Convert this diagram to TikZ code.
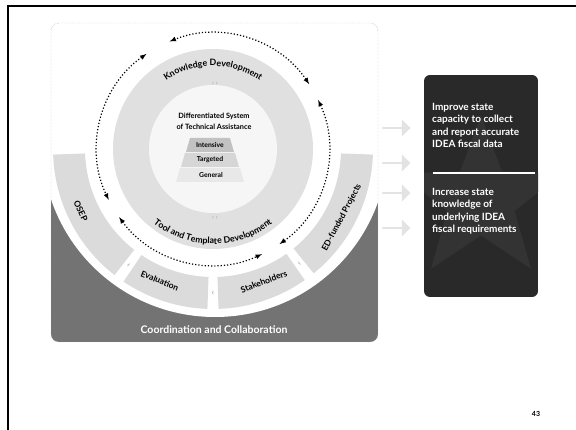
\documentclass[tikz,border=0pt]{standalone}
\usepackage{fontspec}
\setsansfont{Lato}
\usetikzlibrary{decorations.text,shapes.arrows,shapes.geometric}

\definecolor{bandgray}{gray}{0.45}
\definecolor{ringgray}{gray}{0.86}
\definecolor{diskgray}{gray}{0.88}
\definecolor{boxdark}{gray}{0.16}

\begin{document}
\begin{tikzpicture}
    [x=1pt, y=-1pt, font=\sffamily,
     ringlabel/.style={font=\sffamily\bfseries\fontsize{8.5}{9}\selectfont},
     tier/.style={font=\sffamily\bfseries\fontsize{6.8}{7}\selectfont},
     dotarrow/.style={<->, >=latex, dotted, line width=1.2pt},
     flowarrow/.style={single arrow, fill=gray!22, draw=none, inner sep=0pt,
       minimum height=28pt, minimum width=17pt, single arrow head extend=2pt},
     boxtext/.style={white, anchor=north west, inner sep=0pt, align=left,
       font=\sffamily\bfseries\fontsize{10}{12.3}\selectfont}]
    \def \cx {213}
    \def \cy {149}
    \def \rdots {116} % radius of the dotted arrows

    \useasboundingbox (0,0) rectangle (576,430);
    \fill[white] (0,0) rectangle (576,430);

    % slide frame
    \draw[line width=2pt] (8,430) -- (8,6) -- (576,6);

    % panel with the shaded band below the circle
    \begin{scope}
      \clip[rounded corners=8pt] (51,23) rectangle (378,342);
      \fill[bandgray] (51,144) rectangle (378,342);
      \fill[white] (215,144) circle[radius=173];
    \end{scope}
    \draw[gray!70, densely dotted, rounded corners=8pt] (51,23) rectangle (378,342);
    \node[white, font=\sffamily\bfseries\fontsize{10.5}{11}\selectfont] (coord) at (214,330) {Coordination and Collaboration};

    \begin{scope}[shift={(\cx,\cy)}, y=1pt]
      % outer ring of partners
      \foreach \a/\b in {182/232, 236/268, 272/305, 309/358}
        \fill[ringgray] (\a:128) arc[start angle=\a, end angle=\b, radius=128]
          -- (\b:160) arc[start angle=\b, end angle=\a, radius=160] -- cycle;
      \foreach \a in {234, 270, 307}
        \node[gray!60, rotate=\a+90, font=\sffamily\bfseries\small] (gap\a) at (\a:144) {‹};

      \node[ringlabel, rotate=-65] (osep) at (205:146) {OSEP};
      \node[ringlabel, rotate=-22] (eval) at (248:142) {Evaluation};
      \node[ringlabel, rotate=21] (stake) at (291:142) {Stakeholders};
      \node[ringlabel, rotate=62] (edfp) at (332:146) {ED-funded Projects};

      % inner disk
      \fill[diskgray] (0,0) circle[radius=100];
      \fill[gray!7] (0,0) circle[radius=64];
      \path[decorate, decoration={text along path, text align=center,
        text={|\sffamily\bfseries\fontsize{8.8}{9}\selectfont|Knowledge Development}}]
        (150:83) arc[start angle=150, end angle=30, radius=83];
      \path[decorate, decoration={text along path, text align=center,
        text={|\sffamily\bfseries\fontsize{8.8}{9}\selectfont|Tool and Template Development}}]
        (200:95) arc[start angle=200, end angle=340, radius=95];

      % cycle of dotted arrows
      \foreach \a/\b in {34/112, 125/206, 216/295, -55/25}
        \draw[dotarrow] (\a:\rdots) arc[start angle=\a, end angle=\b, radius=\rdots];
    \end{scope}

    \node[gray!70, font=\sffamily\fontsize{7}{7}\selectfont] (kdmark) at (215,84) {‹ ›};
    \node[gray!70, font=\sffamily\fontsize{7}{7}\selectfont] (tdmark) at (215,218) {‹ ›};

    % tiers of assistance
    \node[font=\sffamily\bfseries\fontsize{7.3}{11}\selectfont, align=center] (dsta) at (214,121)
      {Differentiated System\\of Technical Assistance};
    \fill[gray!48] (190,138) -- (230,138) -- (234,152) -- (186,152) -- cycle;
    \fill[gray!32] (185,153) -- (235,153) -- (239,167) -- (181,167) -- cycle;
    \fill[gray!18] (180,168) -- (240,168) -- (244,182) -- (176,182) -- cycle;
    \node[tier] (intensive) at (210,145) {Intensive};
    \node[tier] (targeted) at (210,160) {Targeted};
    \node[tier] (general) at (211,175) {General};

    % arrows into the outcome box
    \foreach \y [count=\i] in {128,163,193,228}
      \node[flowarrow] (flow\i) at (396,\y) {};

    % outcome box
    \begin{scope}
      \clip[rounded corners=6pt] (424,75) rectangle (538,297);
      \fill[boxdark] (424,75) rectangle (538,297);
      \node[star, star points=5, star point ratio=2.4, minimum size=170pt,
        fill=gray!12!boxdark] (boxstar) at (481,200) {};
    \end{scope}
    \node[boxtext] (improve) at (432,103) {Improve state\\capacity to collect\\and report accurate\\IDEA fiscal data};
    \draw[white, line width=2pt] (433,173) -- (535,173);
    \node[boxtext] (increase) at (432,188) {Increase state\\knowledge of\\underlying IDEA\\fiscal requirements};

    \node[font=\sffamily\bfseries\fontsize{7}{8}\selectfont] (pagenum) at (536,414) {43};
  \end{tikzpicture}
\end{document}
